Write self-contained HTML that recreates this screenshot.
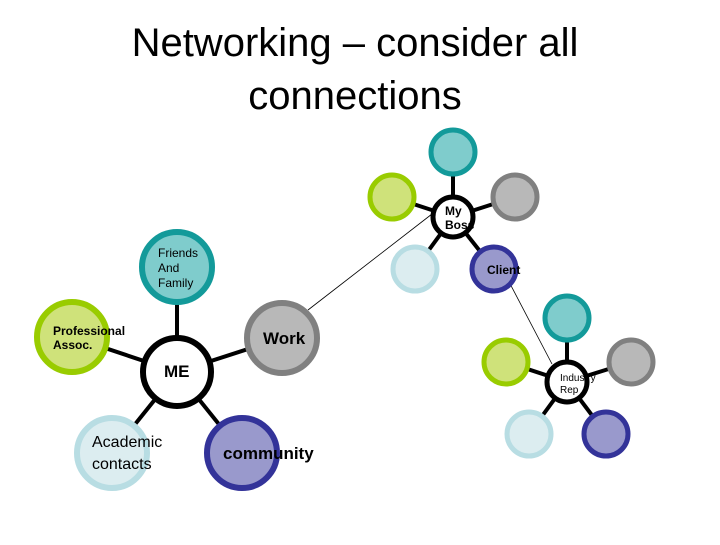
<!DOCTYPE html>
<html><head><style>body{margin:0;background:#fff}</style></head><body>
<svg width="720" height="540" xmlns="http://www.w3.org/2000/svg" font-family="Liberation Sans, sans-serif">
<text x="355" y="56" font-size="40" text-anchor="middle">Networking – consider all</text>
<text x="355" y="109" font-size="40" text-anchor="middle">connections</text>
<g stroke="#000" stroke-width="4">
<line x1="177" y1="372" x2="177" y2="267"/><line x1="177" y1="372" x2="72" y2="337"/><line x1="177" y1="372" x2="282" y2="338"/><line x1="177" y1="372" x2="112" y2="453"/><line x1="177" y1="372" x2="242" y2="453"/>
<line x1="453" y1="217" x2="453" y2="152"/><line x1="453" y1="217" x2="392" y2="197"/><line x1="453" y1="217" x2="515" y2="197"/><line x1="453" y1="217" x2="415" y2="269"/><line x1="453" y1="217" x2="494" y2="269"/>
<line x1="567" y1="382" x2="567" y2="318"/><line x1="567" y1="382" x2="506" y2="362"/><line x1="567" y1="382" x2="631" y2="362"/><line x1="567" y1="382" x2="529" y2="434"/><line x1="567" y1="382" x2="606" y2="434"/>
</g>
<g stroke="#000" stroke-width="0.8"><line x1="308" y1="310" x2="432" y2="214"/><line x1="507" y1="278" x2="552" y2="364"/></g>
<g stroke-width="6">
<circle cx="177" cy="267" r="35" fill="#7fcccc" stroke="#139a9a"/>
<circle cx="72" cy="337" r="35" fill="#cfe27a" stroke="#99cc00"/>
<circle cx="282" cy="338" r="35" fill="#b8b8b8" stroke="#808080"/>
<circle cx="112" cy="453" r="35" fill="#dcedf0" stroke="#b8dde3"/>
<circle cx="242" cy="453" r="35" fill="#9999cc" stroke="#333399"/>
<circle cx="177" cy="372" r="34" fill="#fff" stroke="#000"/>
</g>
<g stroke-width="5">
<circle cx="453" cy="152" r="22" fill="#7fcccc" stroke="#139a9a"/>
<circle cx="392" cy="197" r="22" fill="#cfe27a" stroke="#99cc00"/>
<circle cx="515" cy="197" r="22" fill="#b8b8b8" stroke="#808080"/>
<circle cx="415" cy="269" r="22" fill="#dcedf0" stroke="#b8dde3"/>
<circle cx="494" cy="269" r="22" fill="#9999cc" stroke="#333399"/>
<circle cx="453" cy="217" r="20" fill="#fff" stroke="#000"/>
<circle cx="567" cy="318" r="22" fill="#7fcccc" stroke="#139a9a"/>
<circle cx="506" cy="362" r="22" fill="#cfe27a" stroke="#99cc00"/>
<circle cx="631" cy="362" r="22" fill="#b8b8b8" stroke="#808080"/>
<circle cx="529" cy="434" r="22" fill="#dcedf0" stroke="#b8dde3"/>
<circle cx="606" cy="434" r="22" fill="#9999cc" stroke="#333399"/>
<circle cx="567" cy="382" r="20" fill="#fff" stroke="#000"/>
</g>
<g font-size="12">
<text x="158" y="257">Friends</text><text x="158" y="272">And</text><text x="158" y="287">Family</text>
<text x="53" y="335" font-weight="bold">Professional</text><text x="53" y="349" font-weight="bold">Assoc.</text>
<text x="445" y="215" font-weight="bold">My</text><text x="445" y="229" font-weight="bold">Boss</text>
<text x="487" y="274" font-weight="bold">Client</text>
</g>
<text x="263" y="344" font-size="17" font-weight="bold">Work</text>
<text x="164" y="377" font-size="17" font-weight="bold">ME</text>
<text x="92" y="447" font-size="16">Academic</text><text x="92" y="469" font-size="16">contacts</text>
<text x="223" y="459" font-size="17" font-weight="bold">community</text>
<text x="560" y="381" font-size="10">Industry</text><text x="560" y="393" font-size="10">Rep</text>
</svg>
</body></html>
